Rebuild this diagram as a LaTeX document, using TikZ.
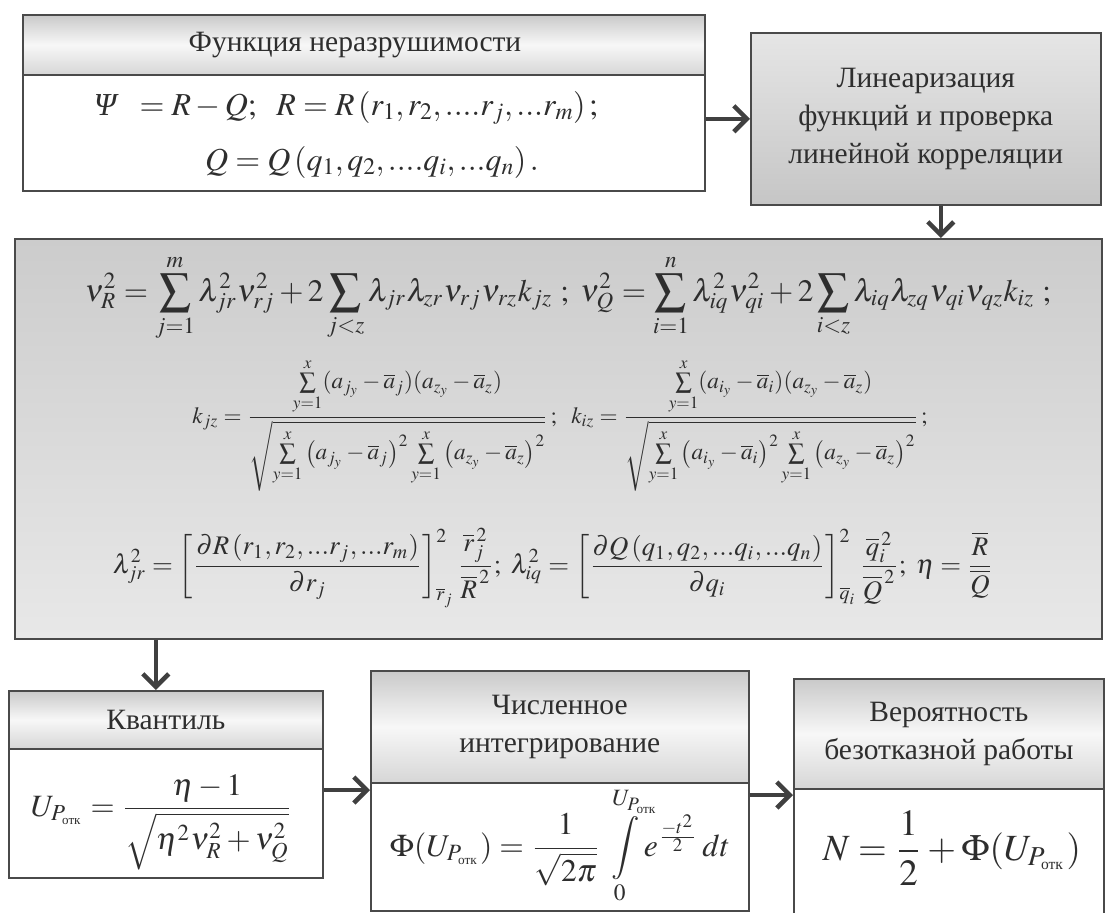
\documentclass[tikz,border=0pt]{standalone}
\usepackage{amsmath}
\usepackage{graphicx}
\usepackage{mathptmx}
\usepackage{fontspec}
\setmainfont{Liberation Serif}
\usetikzlibrary{arrows.meta,calc}
\definecolor{ln}{HTML}{4A4A4A}
\definecolor{tx}{HTML}{2E2E2E}
\definecolor{ar}{HTML}{404040}
\newcommand{\otk}{\text{\scalebox{0.7}{отк}}}
\newcommand{\zw}[1]{\makebox[0pt][l]{$\scriptstyle #1$}}
\tikzset{
  boxline/.style={draw=ln, line width=1.6pt, inner sep=0pt, anchor=north west},
  hdr/.style={boxline, top color=gray!42, bottom color=gray!32, middle color=gray!6},
  bodyw/.style={boxline, fill=white},
  hdrtext/.style={text=tx, align=center, inner sep=0pt, font=\fontsize{29.5}{38}\selectfont},
  frm/.style={text=tx, inner sep=0pt},
  bigm/.style={frm, font=\fontsize{32}{38}\selectfont},
  arr/.style={draw=ar, line width=4.5pt, -{Straight Barb[length=13pt,width=26pt]}}
}
\begin{document}
\begin{tikzpicture}[x=1pt,y=-1pt]
\useasboundingbox (0,0) rectangle (1106,913);
\fill[white] (0,0) rectangle (1106,913);

% top-left box
\node[hdr, minimum width=682pt, minimum height=60pt] (tlh) at (22,14) {};
\node[bodyw, minimum width=682pt, minimum height=116pt] (tlb) at (22,74) {};
\node[hdrtext] (tlt) at (355,45) {Функция неразрушимости};
\node[bigm] (tlf1) at (346,108) {$\text{\itshape Ψ}\ \ =R-Q;\ \ R=R\left(r_1,r_2,....r_j,...r_m\right);$};
\node[bigm] (tlf2) at (372,162) {$Q=Q\left(q_1,q_2,....q_i,...q_n\right).$};

% top-right box
\node[boxline, top color=gray!20, bottom color=gray!45, minimum width=350pt, minimum height=172pt] (tr) at (750,32) {};
\node[hdrtext] (trt) at (tr.center) {Линеаризация\\функций и проверка\\линейной корреляции};

% middle box
\node[boxline, top color=gray!40, bottom color=gray!18, minimum width=1087pt, minimum height=400pt] (m) at (14,238) {};
\node[frm] (m1) at (568,298) {\resizebox{966pt}{!}{$\displaystyle \nu_R^2=\sum_{j=1}^{m}\lambda_{jr}^2\nu_{rj}^2+2\sum_{j<z}\lambda_{jr}\lambda_{zr}\nu_{rj}\nu_{rz}k_{jz}\ ;\ \nu_Q^2=\sum_{i=1}^{n}\lambda_{iq}^2\nu_{qi}^2+2\sum_{i<z}\lambda_{iq}\lambda_{zq}\nu_{qi}\nu_{qz}k_{iz}\ ;$}};
\node[frm] (m2) at (560,425) {\resizebox{735pt}{!}{$\displaystyle k_{jz}=\frac{\textstyle\sum\limits_{y=1}^{x}(a_{j_y}-\overline{a}_j)(a_{z_y}-\overline{a}_z)}{\textstyle\sqrt{\sum\limits_{y=1}^{x}\left(a_{j_y}-\overline{a}_j\right)^2\sum\limits_{y=1}^{x}\left(a_{z_y}-\overline{a}_z\right)^2}}\,;\ \ k_{iz}=\frac{\textstyle\sum\limits_{y=1}^{x}(a_{i_y}-\overline{a}_i)(a_{z_y}-\overline{a}_z)}{\textstyle\sqrt{\sum\limits_{y=1}^{x}\left(a_{i_y}-\overline{a}_i\right)^2\sum\limits_{y=1}^{x}\left(a_{z_y}-\overline{a}_z\right)^2}}\,;$}};
\node[frm] (m3) at (553,568) {\resizebox{880pt}{!}{$\displaystyle \lambda_{jr}^2=\left[\frac{\partial R\left(r_1,r_2,...r_j,...r_m\right)}{\partial r_j}\right]^2_{\overline{r}_j}\frac{\overline{r}_j^{\,2}}{\overline{R}^{\,2}};\ \lambda_{iq}^2=\left[\frac{\partial Q\left(q_1,q_2,...q_i,...q_n\right)}{\partial q_i}\right]^2_{\overline{q}_i}\frac{\overline{q}_i^{\,2}}{\overline{Q}^{\,2}};\ \eta=\frac{\overline{R}}{\overline{Q}}$}};

% bottom-left box
\node[hdr, minimum width=314pt, minimum height=58pt] (blh) at (8,690) {};
\node[bodyw, minimum width=314pt, minimum height=129pt] (blb) at (8,748) {};
\node[hdrtext] (blt) at (blh.center) {Квантиль};
\node[frm] (blf) at (162,822) {\resizebox{262pt}{!}{$\displaystyle U_{P_{\otk}}=\frac{\eta-1}{\sqrt{\eta^2\nu_R^2+\nu_Q^2}}$}};

% bottom-middle box
\node[hdr, minimum width=378pt, minimum height=112pt] (bmh) at (370,670) {};
\node[bodyw, minimum width=378pt, minimum height=128pt] (bmb) at (370,782) {};
\node[hdrtext] (bmt) at (bmh.center) {Численное\\интегрирование};
\node[frm] (bmf) at (560,846) {\resizebox{340pt}{!}{$\displaystyle \Phi(U_{P_{\otk}})=\frac{1}{\sqrt{2\pi}}\ \int\limits_{0}^{\zw{U_{P_{\otk}}}}e^{\frac{-t^2}{2}}\,dt$}};

% bottom-right box
\node[hdr, minimum width=310pt, minimum height=110pt] (brh) at (793,678) {};
\node[bodyw, minimum width=310pt, minimum height=150pt] (brb) at (793,788) {};
\node[hdrtext] (brt) at (brh.center) {Вероятность\\безотказной работы};
\node[frm] (brf) at (952,848) {\resizebox{258pt}{!}{$\displaystyle N=\frac{1}{2}+\Phi(U_{P_{\otk}})$}};

% connectors
\draw[arr] (tlb.east |- tr.west) -- (tr.west);
\draw[arr] ([xshift=15pt]tr.south) -- ([xshift=15pt]tr.south |- m.north);
\draw[arr] ([xshift=-10pt]m.south -| blh.north) -- ([xshift=-10pt]blh.north);
\draw[arr] ([yshift=-42pt]blb.north east) -- ([yshift=-42pt]blb.north east -| bmb.west);
\draw[arr] ([yshift=-13pt]bmb.north east) -- ([yshift=-13pt]bmb.north east -| brb.west);
\end{tikzpicture}
\end{document}
